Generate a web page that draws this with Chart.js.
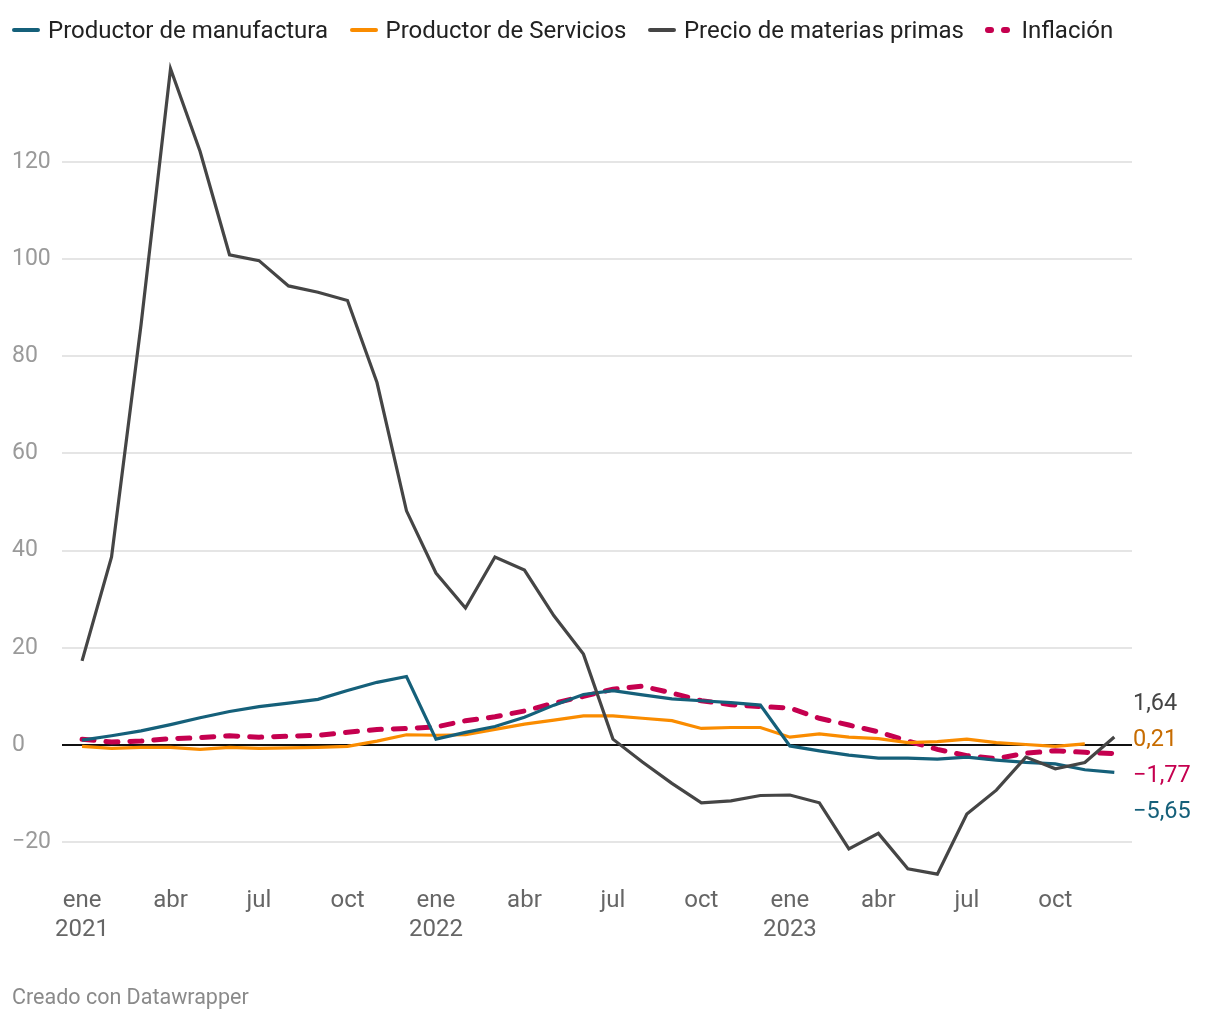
<!DOCTYPE html>
<html lang="es">
<head>
<meta charset="utf-8">
<script src="https://cdn.jsdelivr.net/npm/chart.js@4.4.1/dist/chart.umd.min.js"></script>
<style>
  html, body { margin: 0; padding: 0; background: #fff; }
  body { width: 1220px; height: 1020px; position: relative; overflow: hidden; font-family: Roboto, "Noto Sans", sans-serif; }
  #chart { position: absolute; left: 0; top: 0; }
  #legend { position: absolute; left: 12px; top: 15px; display: flex; align-items: center; font-size: 24px; line-height: 30px; color: #222; white-space: nowrap; }
  .item { display: flex; align-items: center; margin-right: 21.5px; }
  .mark { width: 28px; height: 4px; border-radius: 2px; margin-right: 8px; }
  .dots { width: 28px; height: 6px; margin-right: 8px; position: relative; }
  .dots span { position: absolute; top: 0; width: 9px; height: 6px; border-radius: 3px; background: #c5004f; }
  #credit { position: absolute; left: 12px; top: 984px; font-size: 21.5px; line-height: 26px; color: #8a8a8a; }
</style>
</head>
<body>
<canvas id="chart" width="1220" height="1020"></canvas>
<div id="legend"></div>
<div id="credit">Creado con Datawrapper</div>
<script>
// ---- Data ----
const months = [
  "2021-01","2021-02","2021-03","2021-04","2021-05","2021-06","2021-07","2021-08","2021-09","2021-10","2021-11","2021-12",
  "2022-01","2022-02","2022-03","2022-04","2022-05","2022-06","2022-07","2022-08","2022-09","2022-10","2022-11","2022-12",
  "2023-01","2023-02","2023-03","2023-04","2023-05","2023-06","2023-07","2023-08","2023-09","2023-10","2023-11","2023-12"
];
const seriesNames = ["Productor de manufactura", "Productor de Servicios", "Precio de materias primas", "Inflación"];
const manufactura = [1.0, 1.9, 2.9, 4.2, 5.6, 6.9, 7.9, 8.6, 9.4, 11.2, 12.9, 14.1,
  1.2, 2.6, 3.8, 5.7, 8.2, 10.4, 11.2, 10.3, 9.5, 9.1, 8.7, 8.2,
  -0.2, -1.2, -2.1, -2.7, -2.7, -2.9, -2.5, -3.1, -3.6, -3.9, -5.1, -5.65];
const servicios = [-0.3, -0.7, -0.5, -0.5, -0.9, -0.5, -0.7, -0.6, -0.5, -0.3, 0.8, 2.1,
  2.0, 2.1, 3.2, 4.3, 5.1, 6.0, 6.0, 5.5, 5.0, 3.4, 3.6, 3.6,
  1.6, 2.3, 1.6, 1.3, 0.5, 0.7, 1.2, 0.5, 0.1, -0.3, 0.21, null];
const materiasPrimas = [17.3, 38.7, 86.5, 139.2, 122.2, 100.9, 99.7, 94.5, 93.2, 91.5, 74.6, 48.2,
  35.4, 28.2, 38.7, 36.0, 26.6, 18.7, 1.2, -3.5, -7.9, -11.9, -11.5, -10.4,
  -10.3, -11.9, -21.4, -18.2, -25.5, -26.6, -14.2, -9.3, -2.5, -4.9, -3.6, 1.64];
const inflacion = [1.2, 0.6, 0.8, 1.3, 1.5, 1.9, 1.6, 1.8, 2.0, 2.6, 3.2, 3.4,
  3.7, 5.0, 5.8, 7.0, 8.6, 10.0, 11.5, 12.1, 10.7, 9.1, 8.3, 7.9,
  7.6, 5.5, 4.1, 2.7, 0.8, -0.9, -2.2, -2.8, -1.7, -1.2, -1.5, -1.77];
const xTickIndex = [0, 3, 6, 9, 12, 15, 18, 21, 24, 27, 30, 33];
const xTickLabels = [["ene","2021"],"abr","jul","oct",["ene","2022"],"abr","jul","oct",["ene","2023"],"abr","jul","oct"];
const yTicks = [-20, 0, 20, 40, 60, 80, 100, 120];

// ---- Styles ----
const colors = ["#15607a", "#fa8c00", "#454545", "#c5004f"];
const labelColors = ["#15607a", "#c76c00", "#454545", "#c5004f"];
const FONT = "Roboto, 'Noto Sans', sans-serif";

const toPoints = arr => arr.map((v, i) => ({ x: i, y: v }));
const fmt = v => {
  const s = Math.abs(v).toFixed(2).replace('.', ',');
  return (v < 0 ? '\u2212' : '') + s;
};

// ---- Legend (HTML) ----
const legend = document.getElementById('legend');
seriesNames.forEach((name, i) => {
  const item = document.createElement('div');
  item.className = 'item';
  let mk;
  if (i === 3) {
    mk = document.createElement('div');
    mk.className = 'dots';
    mk.innerHTML = '<span style="left:0"></span><span style="left:16px"></span>';
  } else {
    mk = document.createElement('div');
    mk.className = 'mark';
    mk.style.background = colors[i];
  }
  const t = document.createElement('span');
  t.textContent = name;
  item.appendChild(mk); item.appendChild(t);
  legend.appendChild(item);
});

// ---- End labels plugin ----
const endLabels = {
  id: 'endLabels',
  afterDatasetsDraw(chart) {
    const ys = chart.scales.y;
    const ctx = chart.ctx;
    const items = chart.data.datasets.map((ds, i) => {
      let last = null;
      for (let k = ds.data.length - 1; k >= 0; k--) { if (ds.data[k].y !== null) { last = ds.data[k].y; break; } }
      return { v: last, y: ys.getPixelForValue(last), color: ds.labelColor };
    }).filter(d => d.v !== null);
    items.sort((a, b) => a.y - b.y);
    const gap = 36;
    const pos = [];
    items.forEach((d, i) => { pos.push(i === 0 ? d.y : Math.max(d.y, pos[i - 1] + gap)); });
    const meanOrig = items.reduce((s, d) => s + d.y, 0) / items.length;
    const meanNew = pos.reduce((s, p) => s + p, 0) / pos.length;
    const shift = meanOrig - meanNew + 6;
    ctx.save();
    ctx.font = "23.5px " + FONT;
    ctx.textAlign = 'left';
    ctx.textBaseline = 'middle';
    items.forEach((d, i) => {
      ctx.fillStyle = d.color;
      ctx.fillText(fmt(d.v), chart.chartArea.right + 1, pos[i] + shift);
    });
    ctx.restore();
  }
};

const seriesData = [manufactura, servicios, materiasPrimas, inflacion];
const datasets = seriesData.map((arr, i) => ({
  label: seriesNames[i],
  data: toPoints(arr),
  borderColor: colors[i],
  backgroundColor: colors[i],
  labelColor: labelColors[i],
  borderWidth: i === 3 ? 5 : 3.2,
  borderDash: i === 3 ? [12, 12] : [],
  borderCapStyle: i === 3 ? 'round' : 'butt',
  pointRadius: 0,
  tension: 0,
  spanGaps: false,
  order: i === 2 ? 0 : i + 1
}));

new Chart(document.getElementById('chart'), {
  type: 'line',
  data: { datasets },
  options: {
    responsive: false,
    devicePixelRatio: 1,
    animation: false,
    layout: { padding: { left: 12, right: 88, top: 60, bottom: 75 } },
    plugins: { legend: { display: false }, tooltip: { enabled: false } },
    scales: {
      x: {
        type: 'linear',
        min: -0.68,
        max: 35.6,
        grid: { display: false, drawTicks: false },
        border: { display: false },
        afterBuildTicks: s => { s.ticks = xTickIndex.map(v => ({ value: v })); },
        afterFit: s => { s.height = 64; },
        ticks: {
          autoSkip: false,
          maxRotation: 0,
          padding: 6,
          color: '#666',
          font: { family: FONT, size: 24, lineHeight: 1.2 },
          callback: v => { const k = xTickIndex.indexOf(v); return k >= 0 ? xTickLabels[k] : ''; }
        }
      },
      y: {
        min: -28,
        max: 141,
        grid: {
          drawTicks: false,
          lineWidth: 2,
          color: c => c.tick && c.tick.value === 0 ? '#111' : '#e5e5e5'
        },
        border: { display: false },
        afterBuildTicks: s => { s.ticks = yTicks.map(v => ({ value: v })); },
        afterFit: s => { s.width = 50; },
        ticks: {
          crossAlign: 'far',
          padding: 0,
          color: '#9a9a9a',
          font: { family: FONT, size: 23 },
          callback: v => (v < 0 ? '\u2212' + Math.abs(v) : String(v))
        }
      }
    }
  },
  plugins: [endLabels]
});
</script>
</body>
</html>
